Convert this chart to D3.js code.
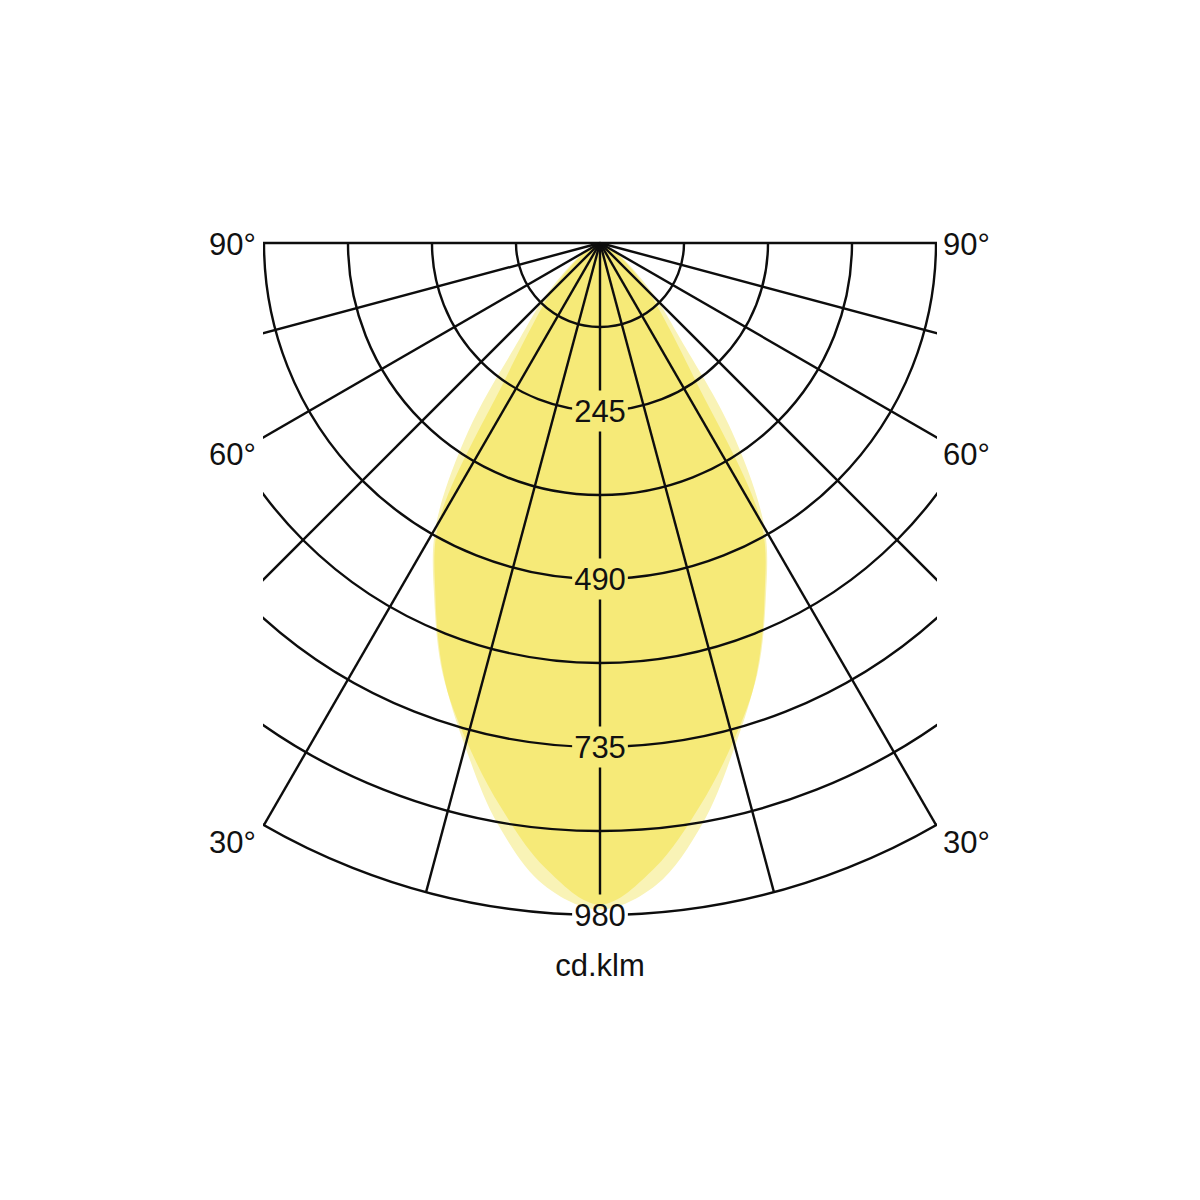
<!DOCTYPE html>
<html>
<head>
<meta charset="utf-8">
<script src="https://cdn.jsdelivr.net/npm/d3@7"></script>
<style>
  html, body { margin: 0; padding: 0; background: #ffffff; }
  svg { display: block; }
  text { font-family: "Liberation Sans", Arial, sans-serif; fill: #111; }
</style>
</head>
<body>
<svg id="chart" width="1200" height="1200"></svg>
<script>
// ---- data ----
const gammas = [0, 5, 10, 15, 20, 25, 30, 35, 40, 45, 50, 55, 60, 70, 80, 90];        // degrees from nadir
const planeA = [965, 915, 835, 752, 670, 572, 480, 335, 182, 120, 72, 45, 25, 10, 4, 0]; // cd/klm (wider near 35-45°)
const planeB = [972, 940, 860, 760, 668, 568, 470, 238, 148, 100, 62, 38, 22, 9, 3, 0]; // cd/klm (wider near 0-15°)
const ringValues = [122.5, 245, 367.5, 490, 612.5, 735, 857.5, 980];
const ringLabels = [245, 490, 735, 980];
const angleTicks = [-90, -75, -60, -45, -30, -15, 0, 15, 30, 45, 60, 75, 90];
const angleLabels = [90, 60, 30];
const unitLabel = "cd.klm";

// ---- layout ----
const svg = d3.select("#chart");
const cx = 600, cy = 243;
const maxVal = 980;
const rScale = d3.scaleLinear().domain([0, maxVal]).range([0, 672]);
const R = rScale(maxVal);
const halfW = R * Math.sin(30 * Math.PI / 180);
const rad = d => d * Math.PI / 180;

const defs = svg.append("defs");
const root = svg.append("g").attr("transform", `translate(${cx},${cy})`);

// clip for grid (band of half-width R*sin30)
defs.append("clipPath").attr("id", "gridClip")
  .append("rect").attr("x", -halfW - 1).attr("y", -2).attr("width", 2 * halfW + 2).attr("height", R + 4);

// ---- light distribution curves ----
function curvePoints(vals) {
  const pts = [];
  for (let i = gammas.length - 1; i >= 0; i--) pts.push({ g: -gammas[i], v: vals[i] });
  for (let i = 1; i < gammas.length; i++) pts.push({ g: gammas[i], v: vals[i] });
  return pts;
}
const radial = d3.lineRadial()
  .angle(d => Math.PI - rad(d.g))
  .radius(d => rScale(d.v))
  .curve(d3.curveCatmullRomClosed.alpha(0.5));

const pathA = radial(curvePoints(planeA));
const pathB = radial(curvePoints(planeB));

defs.append("clipPath").attr("id", "clipB").append("path").attr("d", pathB);

const lightCol = "#f9f3b6", darkCol = "#f6ea78";
root.append("path").attr("d", pathA).attr("fill", lightCol);
root.append("path").attr("d", pathB).attr("fill", lightCol);
root.append("path").attr("d", pathA).attr("fill", darkCol).attr("clip-path", "url(#clipB)");

// ---- ring labels (drawn first to measure, then grid masked around them) ----
const labelG = root.append("g");
const ringText = labelG.selectAll("text").data(ringLabels).join("text")
  .attr("x", 0).attr("y", d => rScale(d))
  .attr("text-anchor", "middle").attr("dominant-baseline", "central")
  .attr("font-size", 31)
  .text(d => d);

const mask = defs.append("mask").attr("id", "labelMask").attr("maskUnits", "userSpaceOnUse")
  .attr("x", -600).attr("y", -300).attr("width", 1200).attr("height", 1200);
mask.append("rect").attr("x", -600).attr("y", -300).attr("width", 1200).attr("height", 1200).attr("fill", "white");
ringText.each(function () {
  const b = this.getBBox();
  mask.append("rect").attr("x", b.x - 2).attr("y", b.y - 3).attr("width", b.width + 4).attr("height", b.height + 6).attr("fill", "black");
});

// ---- grid ----
const gridOuter = root.append("g").attr("mask", "url(#labelMask)");
const grid = gridOuter.append("g").attr("clip-path", "url(#gridClip)")
  .attr("fill", "none").attr("stroke", "#0d0d0d").attr("stroke-width", 2.4);

const arc = d3.arc().startAngle(rad(90)).endAngle(rad(270));
grid.selectAll("path.ring").data(ringValues).join("path")
  .attr("class", "ring")
  .attr("d", d => arc({ innerRadius: rScale(d), outerRadius: rScale(d) }));

grid.selectAll("line.spoke").data(angleTicks).join("line")
  .attr("class", "spoke")
  .attr("x1", 0).attr("y1", 0)
  .attr("x2", d => R * Math.sin(rad(d)))
  .attr("y2", d => R * Math.cos(rad(d)));

labelG.raise();

// ---- angle labels ----
function spokeEnd(g) {
  const len = Math.min(R, halfW / Math.sin(rad(g)));
  return { x: len * Math.sin(rad(g)), y: len * Math.cos(rad(g)) };
}
const angG = root.append("g").attr("font-size", 31);
angleLabels.forEach(g => {
  const e = spokeEnd(g);
  const yy = e.y + (g === 90 ? 1 : 18);
  angG.append("text").attr("x", -e.x - 8).attr("y", yy)
    .attr("text-anchor", "end").attr("dominant-baseline", "central").text(g + "°");
  angG.append("text").attr("x", e.x + 7).attr("y", yy)
    .attr("text-anchor", "start").attr("dominant-baseline", "central").text(g + "°");
});

// unit label
root.append("text").attr("x", 0).attr("y", R + 50)
  .attr("text-anchor", "middle").attr("dominant-baseline", "central")
  .attr("font-size", 31).text(unitLabel);
</script>
</body>
</html>
